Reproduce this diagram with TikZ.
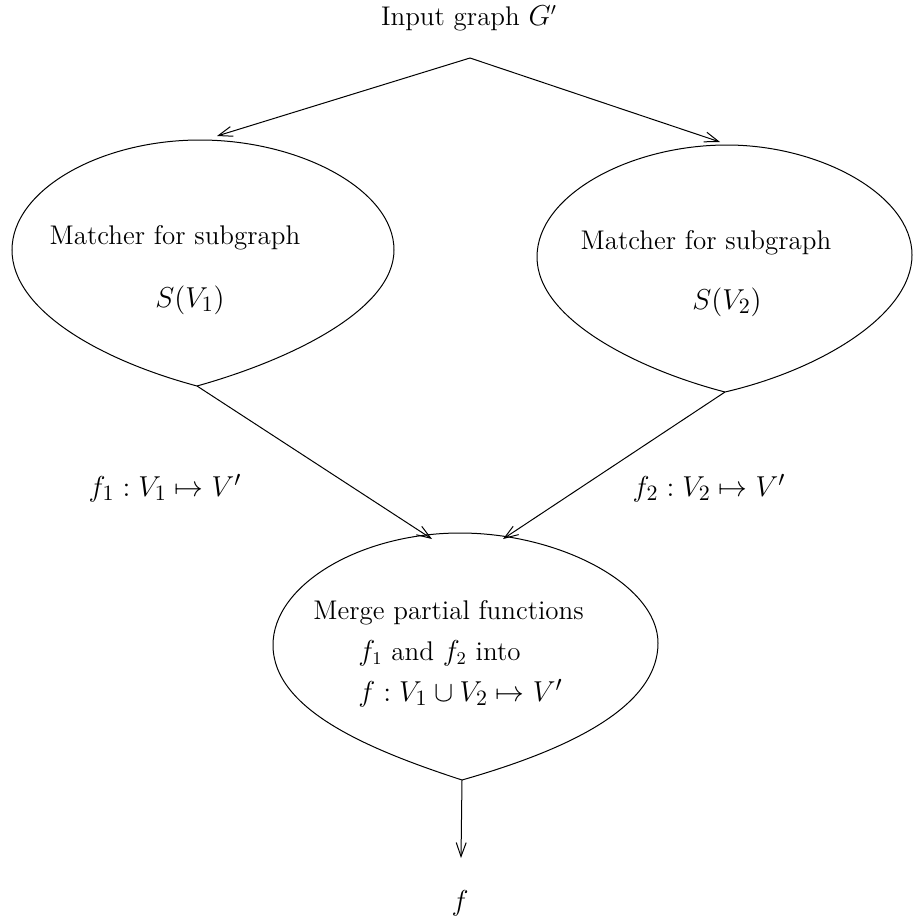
\documentclass[tikz,border=0pt]{standalone}
\usetikzlibrary{arrows.meta}
\begin{document}
\begin{tikzpicture}[
    x=0.5pt, y=-0.5pt,
    >={Straight Barb[length=7pt,width=5pt]},
    flow/.style={->, line width=0.5pt},
    blob/.style={line width=0.5pt},
    lbl/.style={font=\fontsize{13.5}{16}\selectfont, inner sep=0pt},
    mathlbl/.style={font=\fontsize{15}{18}\selectfont, inner sep=0pt}
  ]
  \useasboundingbox (0,0) rectangle (913,920);
  % Input
  \node[lbl] (input) at (469,18) {Input graph $G'$};
  \coordinate (apex) at (470,58);
  \coordinate (topL) at (217,136);
  \coordinate (topR) at (720,142);
  % Matcher blobs
  \coordinate (cuspL) at (197,386);
  \coordinate (cuspR) at (725,392);
  \draw[blob] (cuspL) .. controls (100,360) and (12,310) .. (12,250)
    .. controls (12,190) and (100,140) .. (200,140)
    .. controls (300,140) and (394,190) .. (394,250)
    .. controls (394,310) and (290,360) .. (cuspL);
  \draw[blob] (cuspR) .. controls (640,370) and (537,320) .. (537,257)
    .. controls (537,195) and (630,145) .. (727,145)
    .. controls (820,145) and (912,195) .. (912,255)
    .. controls (912,315) and (820,370) .. (cuspR);
  \node[lbl] (matchL) at (175,238) {Matcher for subgraph};
  \node[mathlbl] (subL) at (190,300) {$S(V_1)$};
  \node[lbl] (matchR) at (706,243) {Matcher for subgraph};
  \node[mathlbl] (subR) at (727,302) {$S(V_2)$};
  % Merge blob
  \coordinate (mergeL) at (432,539);
  \coordinate (mergeR) at (503,539);
  \coordinate (cuspM) at (462,780);
  \draw[blob] (cuspM) .. controls (370,750) and (273,710) .. (273,645)
    .. controls (273,585) and (360,533) .. (460,533)
    .. controls (560,533) and (658,585) .. (658,643)
    .. controls (658,710) and (560,752) .. (cuspM);
  \node[lbl, anchor=west] (merge1) at (313,613) {Merge partial functions};
  \node[lbl, anchor=west] (merge2) at (358,653) {$f_1$ and $f_2$ into};
  \node[mathlbl, anchor=west] (merge3) at (358,693) {$f : V_1 \cup V_2 \mapsto V'$};
  % Output
  \coordinate (outTip) at (461,858);
  \node[mathlbl] (out) at (460,903) {$f$};
  % Connectors
  \draw[flow] (apex) -- (topL);
  \draw[flow] (apex) -- (topR);
  \draw[flow] (cuspL) -- (mergeL);
  \draw[flow] (cuspR) -- (mergeR);
  \draw[flow] (cuspM) -- (outTip);
  \node[mathlbl] (mapL) at (165,488) {$f_1 : V_1 \mapsto V'$};
  \node[mathlbl] (mapR) at (709,488) {$f_2 : V_2 \mapsto V'$};
\end{tikzpicture}
\end{document}
